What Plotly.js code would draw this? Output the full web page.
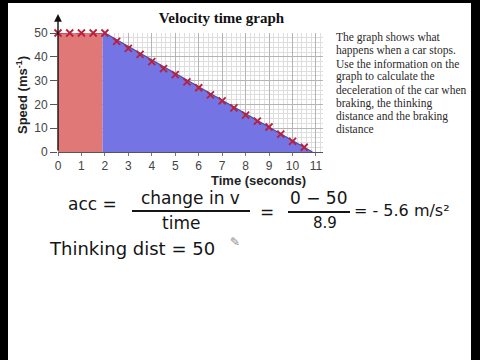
<!DOCTYPE html>
<html><head><meta charset="utf-8">
<script src="https://cdn.plot.ly/plotly-3.0.1.min.js"></script>
<style>
html,body{margin:0;padding:0;background:#000;width:480px;height:360px;overflow:hidden;}
#chart{position:absolute;left:8px;top:3px;width:463px;height:357px;background:#fff;}
</style></head><body><div id="chart"></div>
<script>
// ---- data ----
const thinkTime = [0, 1.9];
const thinkSpeed = [50, 50];
const brakeTime = [1.9, 2, 10.85];
const brakeSpeed = [50, 50, 0];
const markTime = [0, 0.5, 1, 1.5, 2, 2.5, 3, 3.5, 4, 4.5, 5, 5.5, 6, 6.5, 7, 7.5, 8, 8.5, 9, 9.5, 10, 10.5];
const markSpeed = [50, 50, 50, 50, 50, 46.5, 43.5, 41, 38, 35, 32.5, 29.5, 27, 24, 21.5, 18.5, 15.5, 13, 10.5, 7.5, 4.5, 2];
const xTickVals = [0, 1, 2, 3, 4, 5, 6, 7, 8, 9, 10, 11];
const yTickVals = [0, 10, 20, 30, 40, 50];
const chartTitle = 'Velocity time graph';
const xTitle = 'Time (seconds)';
const yTitle = 'Speed (ms<sup>-1</sup>)';
const noteLines = [
  'The graph shows what',
  'happens when a car stops.',
  'Use the information on the',
  'graph to calculate the',
  'deceleration of the car when',
  'braking, the thinking',
  'distance and the braking',
  'distance'
];
const workAcc = 'acc =';
const workNum1 = 'change in v';
const workDen1 = 'time';
const workEq = '=';
const workNum2 = '0 − 50';
const workDen2 = '8.9';
const workResult = '= - 5.6 m/s²';
const workThinking = 'Thinking dist = 50';

// ---- helpers: original-image pixel -> paper coords ----
const L = 58, T = 33, W = 265, H = 119;
const px = x => (x - L) / W;
const py = y => (T + H - y) / H;

const serif = 'Liberation Serif, Times New Roman, serif';
const sans = 'Liberation Sans, Arial, sans-serif';
const hand = 'DejaVu Sans, sans-serif';
const ink = '#151515';

function note(x, y, text, size, opts) {
  return Object.assign({xref: 'paper', yref: 'paper', x: px(x), y: py(y), text: text, showarrow: false,
    xanchor: 'center', yanchor: 'middle', font: {family: hand, size: size, color: ink}}, opts || {});
}

const traces = [
  {x: thinkTime, y: thinkSpeed, type: 'scatter', mode: 'lines', fill: 'tozeroy',
   fillcolor: '#e07878', line: {color: '#c83a50', width: 1.5, dash: 'dash'}, hoverinfo: 'skip'},
  {x: brakeTime, y: brakeSpeed, type: 'scatter', mode: 'lines', fill: 'tozeroy',
   fillcolor: '#7474e4', line: {color: '#4a4aa8', width: 1.2}, hoverinfo: 'skip'},
  {x: markTime, y: markSpeed, type: 'scatter', mode: 'markers', cliponaxis: false,
   marker: {symbol: 'x-thin', size: 7, color: '#b8203c', line: {color: '#b8203c', width: 1.8}}}
];

const annotations = [
  // y axis with arrow
  {xref: 'x', yref: 'paper', x: 0, y: 1, yshift: 19, ax: 0, ay: 138, axref: 'pixel', ayref: 'pixel',
   showarrow: true, arrowhead: 2, arrowsize: 1.1, arrowwidth: 1.4, arrowcolor: '#111', text: '', standoff: 0},
  note(22, 95, '<b>' + yTitle + '</b>', 13, {textangle: -90, font: {family: sans, size: 13, color: '#222'}}),
  note(258, 180, '<b>' + xTitle + '</b>', 13, {font: {family: sans, size: 13, color: '#222'}}),
  // handwritten working
  note(92, 204, workAcc, 17),
  note(190, 198, workNum1, 17),
  note(181, 223, workDen1, 17),
  note(267, 212, workEq, 17),
  note(319, 198, workNum2, 17),
  note(325, 223, workDen2, 15),
  note(352, 210, workResult, 16, {xanchor: 'left'}),
  note(47, 248, workThinking, 18, {xanchor: 'left'}),
  note(235, 242, '✎', 12, {font: {family: hand, size: 12, color: '#888'}})
];
noteLines.forEach((t, i) => {
  annotations.push(note(334, 37.5 + i * 13.1, t, 11.5, {xanchor: 'left', font: {family: serif, size: 11.5, color: '#2a2a2a'}}));
});

const layout = {
  width: 463, height: 357,
  margin: {l: 50, r: 148, t: 30, b: 208, pad: 0},
  paper_bgcolor: '#fff', plot_bgcolor: '#fff',
  showlegend: false,
  title: {text: '<b>' + chartTitle + '</b>', font: {family: serif, size: 15, color: '#111'},
          xref: 'container', yref: 'container', x: 213.5 / 463, y: 1 - 15 / 357, xanchor: 'center', yanchor: 'middle'},
  xaxis: {range: [0, 11.3], tickvals: xTickVals, ticks: 'outside', ticklen: 3, tickcolor: '#777', tickwidth: 1,
          showline: true, linecolor: '#555', linewidth: 1, zeroline: false,
          showgrid: true, gridcolor: '#b4b4b4', gridwidth: 1,
          minor: {dtick: 0.2, showgrid: true, gridcolor: '#dedede', gridwidth: 1, ticks: ''},
          tickfont: {family: sans, size: 12, color: '#444'}, fixedrange: true},
  yaxis: {range: [0, 50], tickvals: yTickVals, ticks: 'outside', ticklen: 7, tickcolor: '#555', tickwidth: 1,
          showline: false, zeroline: false,
          showgrid: true, gridcolor: '#b4b4b4', gridwidth: 1,
          minor: {dtick: 2, showgrid: true, gridcolor: '#dedede', gridwidth: 1, ticks: ''},
          tickfont: {family: sans, size: 12, color: '#444'}, fixedrange: true},
  shapes: [
    {type: 'line', xref: 'paper', yref: 'paper', x0: px(132), x1: px(250), y0: py(211), y1: py(211), line: {color: ink, width: 2}},
    {type: 'line', xref: 'paper', yref: 'paper', x0: px(288), x1: px(350), y0: py(212), y1: py(212), line: {color: ink, width: 2}}
  ],
  annotations: annotations
};

Plotly.newPlot('chart', traces, layout, {displayModeBar: false, staticPlot: true});
</script></body></html>
